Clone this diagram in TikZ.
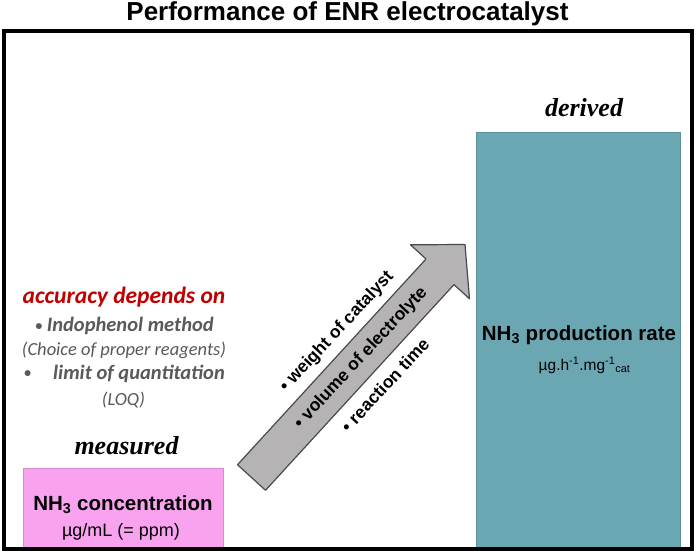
\documentclass[tikz,border=0pt]{standalone}
\usepackage{fontspec}
\setmainfont{Liberation Sans}
\newfontfamily\arialf{Liberation Sans}
\newfontfamily\calf{Carlito}
\newfontfamily\timesf{Liberation Serif}
\definecolor{pinkbox}{HTML}{F9A3F0}
\definecolor{pinkedge}{HTML}{D98BD0}
\definecolor{tealbox}{HTML}{6BA7B3}
\definecolor{tealedge}{HTML}{5A919C}
\definecolor{redtxt}{HTML}{C00000}
\definecolor{graytxt}{HTML}{595959}
\definecolor{arrowfill}{HTML}{B5B3B3}
\definecolor{arrowedge}{HTML}{4A4A4A}
\newcommand{\smallbul}{{\fontsize{14}{14}\selectfont\raisebox{1.5pt}{\textbullet}}}
\tikzset{
  txt/.style={inner sep=0pt, anchor=base},
  boxpink/.style={fill=pinkbox, draw=pinkedge, line width=1pt},
  boxteal/.style={fill=tealbox, draw=tealedge, line width=1pt},
  arrowshape/.style={fill=arrowfill, draw=arrowedge, line width=1.2pt, line join=round},
  arrowtxt/.style={inner sep=0pt, rotate=47, font=\arialf\bfseries\fontsize{17.5}{18}\selectfont},
}
\begin{document}
\begin{tikzpicture}[x=1pt,y=-1pt]
\useasboundingbox (0,0) rectangle (696,551);
\fill[white] (0,0) rectangle (696,551);
% boxes
\draw[boxpink] (23,468) rectangle (223,549);
\draw[boxteal] (476,132) rectangle (680,547);
% frame
\draw[line width=4pt] (4,31) rectangle (692,549);
% title
\node[txt, font=\arialf\bfseries\fontsize{26}{27}\selectfont] (title) at (347.5,21) {Performance of ENR electrocatalyst};
% left texts
\node[txt, text=redtxt, font=\calf\bfseries\itshape\fontsize{23.5}{24}\selectfont] (acc) at (124,303) {accuracy depends on};
\node[txt, text=graytxt, font=\calf\bfseries\itshape\fontsize{20.5}{21}\selectfont] (indo) at (124.5,331.5) {\smallbul\ Indophenol method};
\node[txt, text=graytxt, font=\calf\itshape\fontsize{18.5}{19}\selectfont] (choice) at (124,355) {(Choice of proper reagents)};
\node[txt, text=graytxt, font=\calf\bfseries\itshape\fontsize{20.5}{21}\selectfont] (loq) at (124.5,379) {\smallbul\hspace{22pt}limit of quantitation};
\node[txt, text=graytxt, font=\calf\itshape\fontsize{18.5}{19}\selectfont] (loqab) at (123.5,405) {(LOQ)};
\node[txt, font=\timesf\bfseries\itshape\fontsize{26}{27}\selectfont] (meas) at (126.5,454) {measured};
\node[txt, font=\arialf\bfseries\fontsize{20.5}{21}\selectfont] (conc) at (123,510) {NH\textsubscript{3} concentration};
\node[txt, font=\arialf\fontsize{18}{19}\selectfont] (concu) at (121,536.5) {µg/mL (= ppm)};
% right texts
\node[txt, font=\timesf\bfseries\itshape\fontsize{26}{27}\selectfont] (der) at (584,116.5) {derived};
\node[txt, font=\arialf\bfseries\fontsize{20.5}{21}\selectfont] (rate) at (579,340) {NH\textsubscript{3} production rate};
\node[txt, font=\arialf\fontsize{15.5}{16}\selectfont] (rateu) at (584.5,370) {µg.h\textsuperscript{-1}.mg\textsuperscript{-1}\textsubscript{cat}};
% arrow
\coordinate (a1) at (237.5,464.7);
\coordinate (a2) at (426,259);
\coordinate (a3) at (410.5,244.8);
\coordinate (a4) at (465,244.5);
\coordinate (a5) at (469.5,298.8);
\coordinate (a6) at (454,284.6);
\coordinate (a7) at (265.5,490.3);
\draw[arrowshape] (a1) -- (a2) -- (a3) -- (a4) -- (a5) -- (a6) -- (a7) -- cycle;
\node[arrowtxt] (w) at (337,332) {\textbullet\ weight of catalyst};
\node[arrowtxt] (v) at (361,358) {\textbullet\ volume of electrolyte};
\node[arrowtxt] (r) at (385,385) {\textbullet\ reaction time};
\end{tikzpicture}
\end{document}
